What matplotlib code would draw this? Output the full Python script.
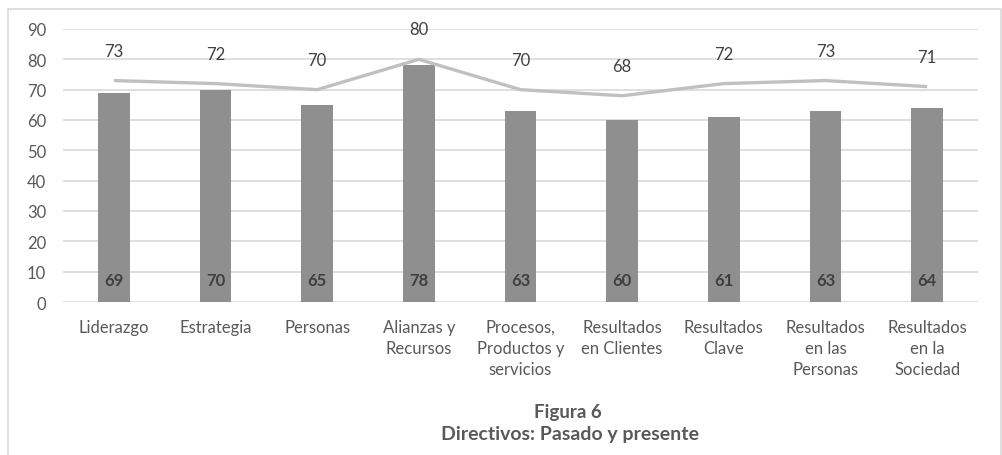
import matplotlib
matplotlib.use("Agg")
import matplotlib.pyplot as plt
from matplotlib.patches import Rectangle

categories = ["Liderazgo", "Estrategia", "Personas", "Alianzas y\nRecursos",
              "Procesos,\nProductos y\nservicios", "Resultados\nen Clientes",
              "Resultados\nClave", "Resultados\nen las\nPersonas", "Resultados\nen la\nSociedad"]
bar_values = [69, 70, 65, 78, 63, 60, 61, 63, 64]
line_values = [73, 72, 70, 80, 70, 68, 72, 73, 71]
yticks = [0, 10, 20, 30, 40, 50, 60, 70, 80, 90]
title_line1 = "Figura 6"
title_line2 = "Directivos: Pasado y presente"

plt.rcParams['font.family'] = ['Lato', 'DejaVu Sans']

W, H = 1003, 456
fig = plt.figure(figsize=(W / 100, H / 100), dpi=100)
fig.patches.append(Rectangle((8 / W, -0.05), (W - 10) / W, (H - 10) / H + 0.05,
                             transform=fig.transFigure, fill=False,
                             edgecolor="#d9d9d9", linewidth=1.2))

ax = fig.add_axes([63 / W, (H - 303) / H, (978 - 63) / W, (303 - 30) / H])
x = list(range(len(categories)))
ax.bar(x, bar_values, width=0.31, color="#8f8f8f", zorder=2)
ax.plot(x, line_values, color="#c0c0c0", linewidth=2.4, zorder=3, solid_capstyle="butt")

for xi, v in zip(x, line_values):
    ax.annotate(str(v), (xi, v), xytext=(0, 21.5), textcoords="offset points",
                ha="center", va="center", fontsize=12, color="#404040")
for xi, v in zip(x, bar_values):
    ax.annotate(str(v), (xi, 0), xytext=(0, 15.5), textcoords="offset points",
                ha="center", va="center", fontsize=12, color="#404040", fontweight="bold")

ax.set_xlim(-0.5, len(categories) - 0.5)
ax.set_ylim(0, 90)
ax.set_yticks(yticks)
ax.yaxis.grid(True, color="#d9d9d9", linewidth=1.2, zorder=0)
ax.set_axisbelow(True)
for s in ax.spines.values():
    s.set_visible(False)
ax.tick_params(axis="both", length=0, labelsize=12, labelcolor="#595959")
ax.tick_params(axis="y", pad=12)
ax.tick_params(axis="x", pad=12)
ax.set_xticks(x)
ax.set_xticklabels(categories, linespacing=1.4, va="top")

fig.text(568 / W, 1 - 413 / H, title_line1, ha="center", va="center",
         fontsize=13.5, fontweight="bold", color="#595959")
fig.text(570 / W, 1 - 435 / H, title_line2, ha="center", va="center",
         fontsize=14, fontweight="bold", color="#595959")

fig.savefig("out.png", dpi=100)
